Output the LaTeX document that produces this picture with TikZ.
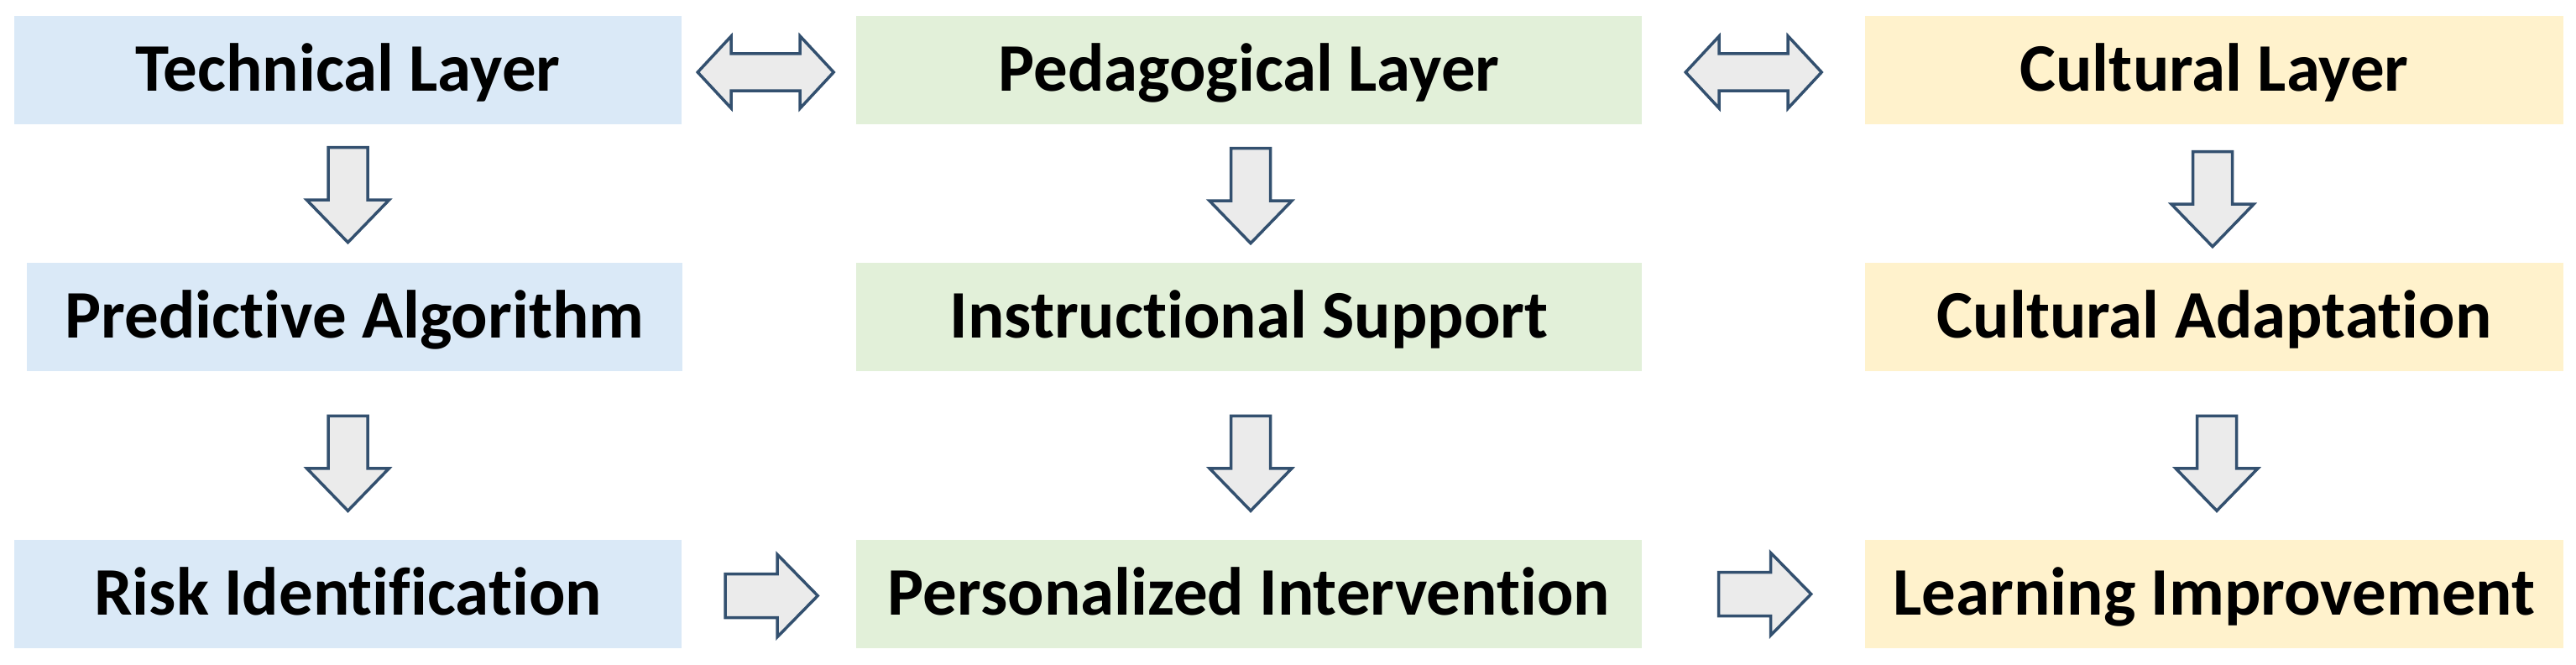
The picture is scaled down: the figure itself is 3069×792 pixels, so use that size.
\documentclass[tikz,border=0pt]{standalone}
\usepackage{fontspec}
\setmainfont{Carlito}[Ligatures=NoCommon]
\usetikzlibrary{calc}
\definecolor{techblue}{HTML}{DAE9F7}
\definecolor{pedgreen}{HTML}{E2F0D9}
\definecolor{culyellow}{HTML}{FFF2CC}
\definecolor{arrline}{HTML}{33506F}
\definecolor{arrfill}{HTML}{EBEBEB}
\begin{document}
\begin{tikzpicture}[x=1pt,y=-1pt,
  box/.style={rectangle, inner sep=0pt, minimum height=129pt, text height=50pt, text depth=0pt,
    font=\fontsize{81}{90}\selectfont\bfseries, text=black},
  bluebox/.style={box, fill=techblue, minimum width=795pt},
  greenbox/.style={box, fill=pedgreen, minimum width=936pt},
  yellowbox/.style={box, fill=culyellow, minimum width=832pt},
  blockarrow/.style={draw=arrline, fill=arrfill, line width=3.5pt, line join=miter},
  pics/downarr/.style={code={\draw[blockarrow] (-23.5,-56.5) -- (23.5,-56.5) -- (23.5,6) -- (49,6) -- (0,56.5) -- (-49,6) -- (-23.5,6) -- cycle;}},
  pics/rightarr/.style={code={\draw[blockarrow] (-55,-26) -- (7,-26) -- (7,-49) -- (55,0) -- (7,49) -- (7,26) -- (-55,26) -- cycle;}},
  pics/bothways/.style={code={\draw[blockarrow] (-81,0) -- (-41,-43) -- (-41,-22) -- (41,-22) -- (41,-43) -- (81,0) -- (41,43) -- (41,22) -- (-41,22) -- (-41,43) -- cycle;}}
]
\fill[white] (0,0) rectangle (3069,792);
\useasboundingbox (0,0) rectangle (3069,792);

% column 1
\node[bluebox] (tech) at (414.5,83.5) {Technical Layer};
\node[bluebox, minimum width=781pt] (pred) at (422.5,377) {Predictive Algorithm};
\node[bluebox] (risk) at (414.5,707.5) {Risk Identification};
% column 2
\node[greenbox] (ped) at (1488,83.5) {Pedagogical Layer};
\node[greenbox] (inst) at (1488,377) {Instructional Support};
\node[greenbox] (pers) at (1488,707.5) {Personalized Intervention};
% column 3
\node[yellowbox] (cul) at (2638,83.5) {Cultural Layer};
\node[yellowbox] (adapt) at (2638,377) {Cultural Adaptation};
\node[yellowbox] (learn) at (2638,707.5) {Learning Improvement};

% vertical arrows
\pic at ($(tech.south)+(0,84)$) {downarr};
\pic at ($(risk.north)+(0,-91)$) {downarr};
\pic at ($(ped.south)+(2,85)$) {downarr};
\pic at ($(pers.north)+(2,-91)$) {downarr};
\pic at ($(cul.south)+(-2,89)$) {downarr};
\pic at ($(learn.north)+(3,-91)$) {downarr};

% horizontal arrows
\pic at ($(tech.east)+(100,2.5)$) {bothways};
\pic at ($(ped.east)+(133,2.5)$) {bothways};
\pic at ($(risk.east)+(107,2)$) {rightarr};
\pic at ($(pers.east)+(146.5,0)$) {rightarr};
\end{tikzpicture}
\end{document}
